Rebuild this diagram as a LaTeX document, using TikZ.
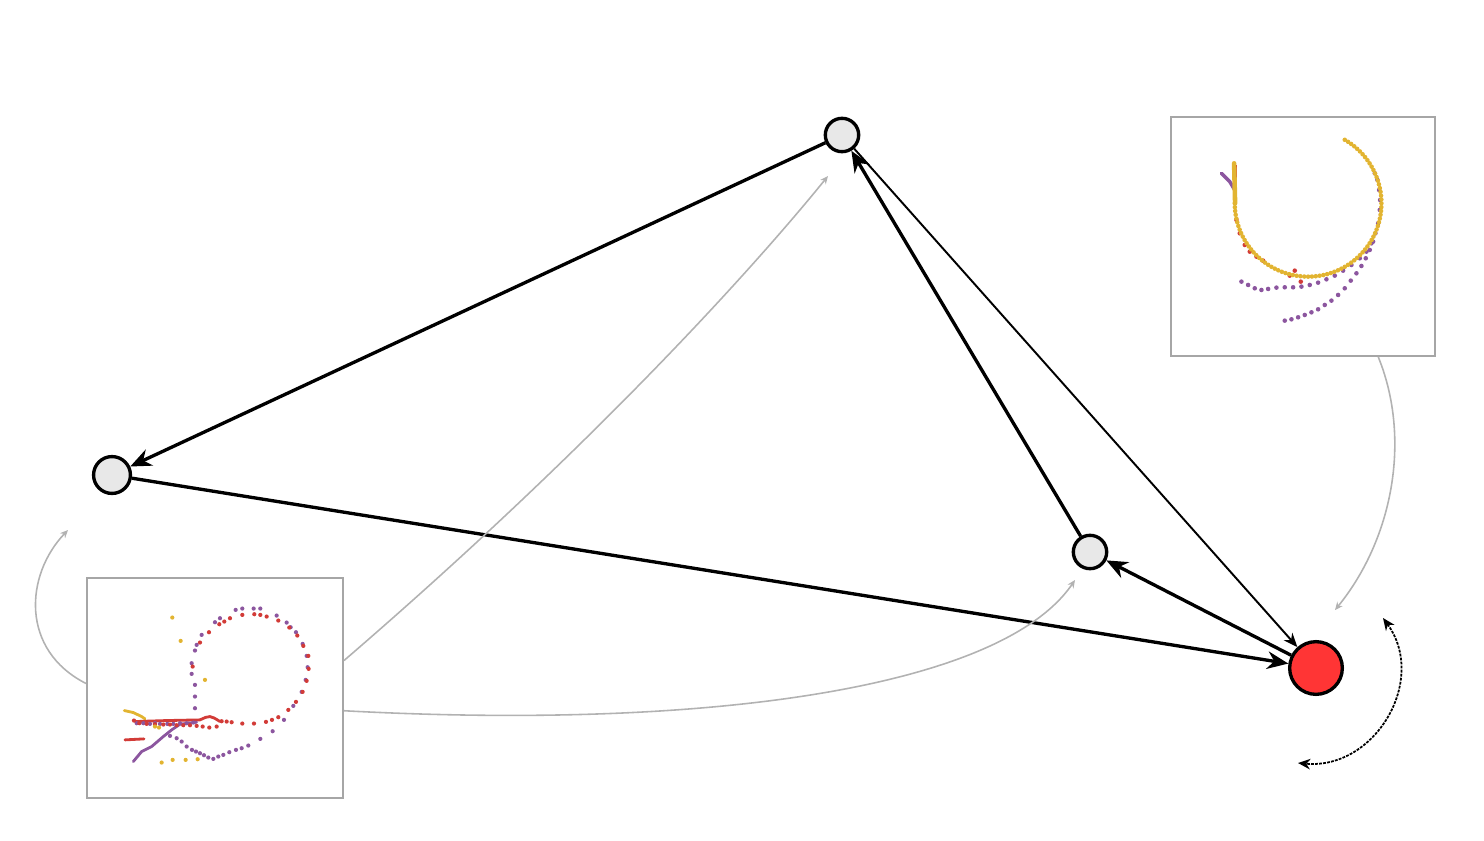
\documentclass[tikz,border=0pt]{standalone}
\usetikzlibrary{arrows.meta}
\definecolor{nodegray}{HTML}{E8E8E8}
\definecolor{hotred}{HTML}{FF3535}
\definecolor{trajA}{HTML}{8C569F}
\definecolor{trajB}{HTML}{D23B37}
\definecolor{trajC}{HTML}{E2B431}
\tikzset{
  state/.style={circle, draw, line width=1.9pt, fill=nodegray, inner sep=0pt, minimum size=19pt},
  link/.style={line width=1.9pt, -{Stealth[length=12pt,width=10pt]}},
  thinlink/.style={line width=1.1pt, -{Stealth[length=8pt,width=6.5pt]}},
  hint/.style={gray!60, line width=0.9pt, -{Stealth[length=4.5pt,width=4pt]}},
  inset/.style={draw=gray!70, line width=1.1pt, inner sep=0pt},
}
\begin{document}
\begin{tikzpicture}[x=0.02cm, y=-0.02cm]
  \useasboundingbox (0,0) rectangle (1484,841);
  % states
  \node[state] (top) at (842,135) {};
  \node[state, minimum size=21pt] (left) at (112,475) {};
  \node[state] (mid) at (1090,552) {};
  \node[state, minimum size=30pt, fill=hotred] (goal) at (1316,668) {};
  % insets
  \node[inset, minimum width=5.12cm, minimum height=4.4cm] (inA) at (215,688) {};
  \node[inset, minimum width=5.28cm, minimum height=4.78cm] (inB) at (1303,236.5) {};
  % transitions
  \draw[link] (top) -- (left);
  \draw[link] (left) -- (goal);
  \draw[link] (mid) -- (top);
  \draw[link] (goal) -- (mid);
  \draw[thinlink] (top) -- (goal);
  % hints from insets
  \coordinate (nearleft) at (68,530);
  \coordinate (neartop) at (828,176);
  \coordinate (nearmid) at (1075,580);
  \coordinate (neargoal) at (1335,610);
  \draw[hint] (inA.178) .. controls (20,650) and (25,575) .. (nearleft);
  \draw[hint] (inA.12) .. controls (600,440) and (760,260) .. (neartop);
  \draw[hint] (inA.-10) .. controls (700,730) and (1000,690) .. (nearmid);
  \draw[hint] (inB.-58) .. controls (1412,440) and (1392,540) .. (neargoal);
  % rotation
  \coordinate (rotA) at (1383,618);
  \coordinate (rotB) at (1298,763);
  \draw[line width=1pt, dash pattern=on 1.6pt off 0.7pt, {Stealth[length=7pt,width=6pt]}-{Stealth[length=7pt,width=6pt]}]
    (rotA) .. controls (1428,680) and (1375,770) .. (rotB);
  % left inset trajectories
  \begin{scope}[shift={(1.6cm,-11.4cm)}, x=0.0066667cm, y=-0.0066667cm]
    \draw[trajC, line width=1.6pt, line cap=round] (133,422) -- (160,428) -- (185,440) -- (195,447);
    \draw[trajB, line width=1.6pt, line cap=round] (165,455) -- (260,452) -- (360,450) .. controls (390,436) .. (420,455);
    \draw[trajB, line width=1.6pt, line cap=round] (135,510) -- (192,507);
    \draw[trajA, line width=1.6pt, line cap=round] (160,575) -- (185,545) -- (215,530) -- (250,500) -- (275,480) -- (300,463) -- (350,457);
    \foreach \p in {(345,415),(345,380),(345,345),(335,312),(335,280),(345,242),(350,225),(365,195),(405,157),(420,145),(467,120),(487,116),(521,116),(541,116),(590,137),(620,158),(632,172),(648,187),(668,222),(680,258),(683,292),(677,330),(665,366),(640,408),(612,450),(578,484),(541,507),(505,527),(485,535),(468,540),(448,547),(430,555),(415,560),(400,567),(385,563),(372,556),(360,550),(348,545),(336,540),(320,530),(305,515),(290,505),(270,498),(170,460),(190,460),(210,462),(225,460),(240,462),(262,462),(280,462),(300,460),(320,460),(340,458)}
      \fill[trajA] \p circle (1.2pt);
    \foreach \p in {(338,290),(360,218),(387,187),(418,163),(433,155),(450,145),(487,135),(523,133),(541,135),(560,140),(595,152),(628,173),(652,197),(670,228),(685,258),(686,297),(680,333),(668,366),(648,396),(625,420),(595,442),(576,450),(558,456),(522,461),(487,461),(455,457),(440,455),(425,454),(410,470),(388,473),(368,470),(350,468),(330,466),(310,466),(290,466),(270,464),(250,464),(225,463),(200,462),(178,460),(162,452)}
      \fill[trajB] \p circle (1.2pt);
    \foreach \p in {(277,143),(302,213),(375,330),(237,473),(225,470),(245,578),(278,570),(317,570),(353,568)}
      \fill[trajC] \p circle (1.2pt);
  \end{scope}
  % right inset trajectories
  \begin{scope}[shift={(23.3cm,-2.2cm)}, x=0.0066667cm, y=-0.0066667cm]
    \draw[trajA, line width=2pt, line cap=round] (170,190) -- (195,215) -- (210,240);
    \draw[trajB, line width=0.8pt] (216,165) -- (216,275);
    \draw[trajC, line width=2.6pt, line cap=round] (208,160) -- (211,280);
    \foreach \p in {(230,515),(250,525),(270,535),(290,540),(310,537),(335,533),(360,532),(385,532),(410,530),(435,525),(460,518),(485,508),(510,497),(535,482),(560,465),(585,445),(605,425),(620,400),(632,370),(640,340),(645,300),(646,270),(643,240),(638,210),(630,190),(360,632),(380,628),(400,622),(420,615),(440,607),(460,598),(480,585),(500,572),(520,555),(540,535),(558,512),(575,490),(590,468),(603,445),(615,420),(625,395)}
      \fill[trajA] \p circle (1.3pt);
    \foreach \p in {(240,405),(255,425),(275,440),(295,452),(215,330),(225,370),(375,497),(390,482),(408,515)}
      \fill[trajB] \p circle (1.3pt);
    \foreach \a in {60,57,...,-180}
      \fill[trajC] ({430+220*cos(\a)},{280-220*sin(\a)}) circle (1.3pt);
  \end{scope}
\end{tikzpicture}
\end{document}
